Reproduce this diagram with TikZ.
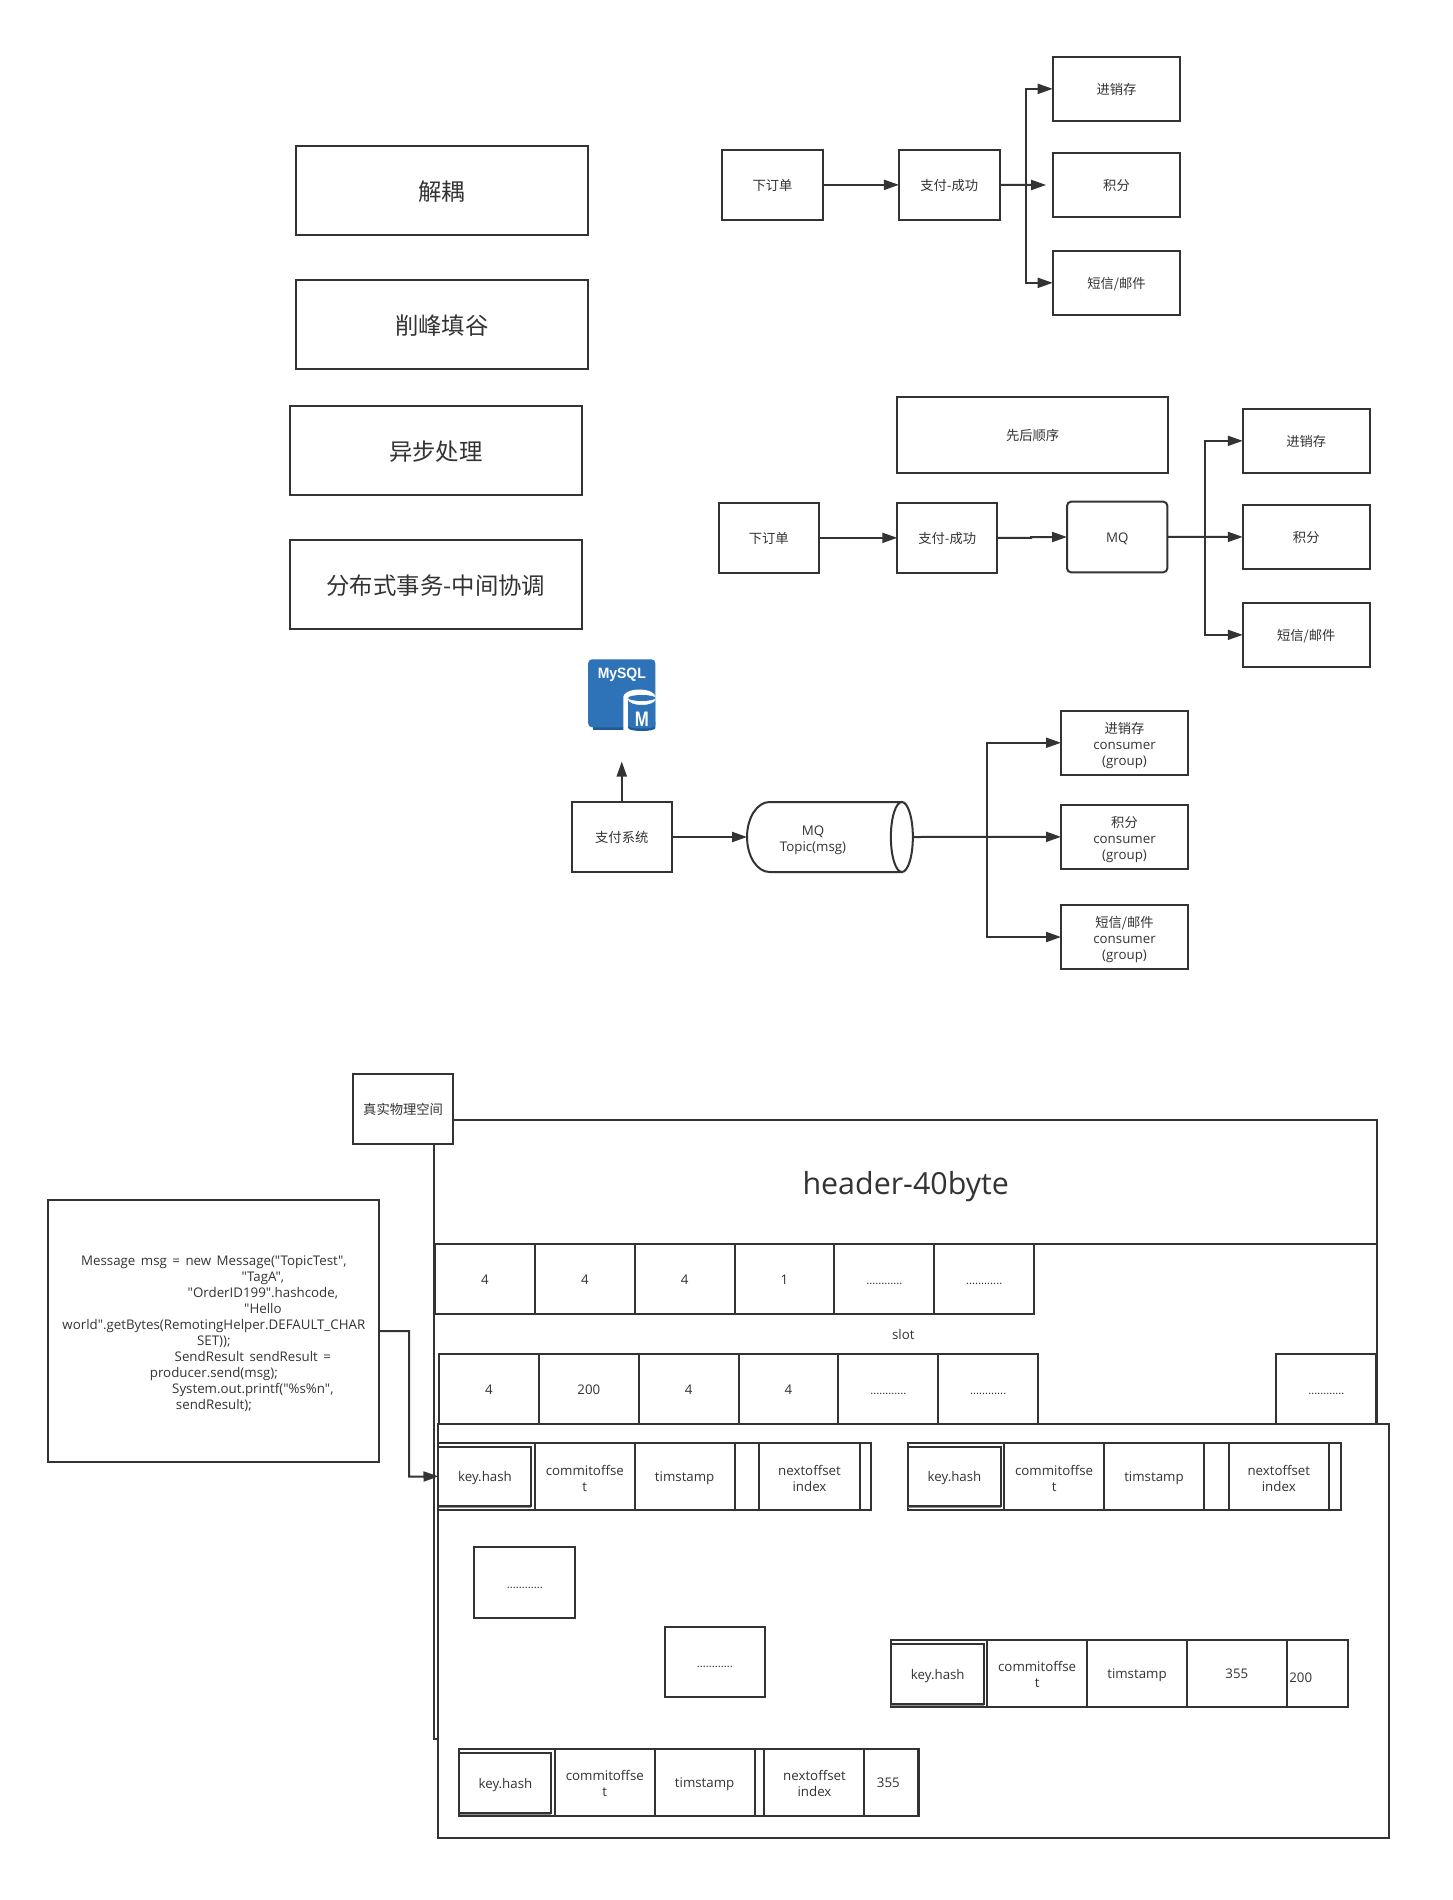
\documentclass[tikz,border=0pt]{standalone}
\usepackage{fontspec}
\setmainfont{Open Sans}[Ligatures=TeXOff]
\newfontfamily\cjk{Noto Sans CJK SC}
\newfontfamily\arialish{Liberation Sans}
\usetikzlibrary{arrows.meta}
\definecolor{ink}{HTML}{333333}
\definecolor{mysqlblue}{HTML}{2E73B8}
\definecolor{mysqldark}{HTML}{1F5A96}
\newcommand{\wordgap}{\spaceskip=5.5pt\relax}
\newcommand{\ml}{\rule{0pt}{17.4pt}}
\tikzset{
  struts/.style={execute at begin node={\rule{0pt}{1.13em}},execute at end node={\rule[-.3em]{0pt}{.3em}}},
  base/.style={line width=2pt,draw=ink,text=ink,inner sep=0pt,outer sep=0pt,align=center,font=\fontsize{13.3}{16}\selectfont,struts},
  box/.style={base,fill=white},
  big/.style={font=\fontsize{23.4}{28}\selectfont},
  conn/.style={line width=2pt,draw=ink,-{Triangle[length=15pt,width=10pt]}},
  plain/.style={line width=2pt,draw=ink},
  label/.style={text=ink,inner sep=0pt,align=center,font=\fontsize{13.3}{16}\selectfont,struts},
}
\newcommand{\nbox}[7][]{%
  \pgfmathsetmacro\cxx{(#3+#5)/2}\pgfmathsetmacro\cyy{(#4+#6)/2}%
  \pgfmathsetmacro\ww{#5-#3}\pgfmathsetmacro\hh{#6-#4}%
  \node[box,minimum width=\ww pt,minimum height=\hh pt,#1] (#2) at (\cxx,\cyy) {#7};}
\newcommand{\keybox}[5]{%
  \nbox{#1}{#2}{#3}{#4}{#5}{key.hash}
  \draw[line width=1.2pt,draw=black!45] (#2,#5+1.6) -- (#4,#5+1.6);}
\newcommand{\dotsline}{{\fontsize{11.3}{14}\selectfont ............}}
\begin{document}
\begin{tikzpicture}[x=0.9985pt,y=-1pt]
\useasboundingbox (0,0) rectangle (1454.18,1900);
\fill[white] (0,0) rectangle (1454.18,1900);
\begin{scope}[xshift=0.7pt]

% left big boxes
\nbox[big]{a1}{295.7}{145.7}{588}{235}{\cjk 解耦}
\nbox[big]{a2}{295.7}{279.7}{588}{369}{\cjk 削峰填谷}
\nbox[big]{a3}{289.7}{405.7}{582}{495}{\cjk 异步处理}
\nbox[big]{a4}{289.7}{539.7}{582}{629}{\cjk 分布式事务-中间协调}

% top flow
\nbox{t1}{722.7}{149.7}{823.3}{220}{\cjk 下订单}
\nbox{t2}{899.7}{149.7}{1000.3}{220}{\cjk 支付-成功}
\nbox{t3}{1053.7}{56.7}{1181.3}{121}{\cjk 进销存}
\nbox{t4}{1053.7}{153}{1181.3}{217}{\cjk 积分}
\nbox{t5}{1053.7}{250.7}{1181.3}{315}{\cjk 短信/邮件}
\coordinate (tb) at (1027,185);
\coordinate (te) at (1047,185);
\draw[conn] (t1) -- (t2);
\draw[conn] (t2) -- (te);
\draw[conn] (tb) |- (t3);
\draw[conn] (tb) |- (t5);

% second flow
\nbox{o0}{898}{396.7}{1169}{473}{\cjk 先后顺序}
\nbox{m1}{719}{502.7}{819.3}{573}{\cjk 下订单}
\nbox{m2}{898}{502.7}{998}{573}{\cjk 支付-成功}
\nbox[rounded corners=4pt]{m3}{1068}{501.7}{1168.3}{572.3}{MQ}
\nbox{m4}{1244}{408.7}{1371}{473}{\cjk 进销存}
\nbox{m5}{1244}{504.7}{1371}{569}{\cjk 积分}
\nbox{m6}{1244}{602.7}{1371}{667}{\cjk 短信/邮件}
\coordinate (mb) at (1206,537);
\coordinate (mk1) at (1032,537.85);
\coordinate (mk2) at (1032,537);
\draw[conn] (m1) -- (m2);
\draw[conn] (m2.east) -- (mk1) -- (mk2) -- (m3.west);
\draw[conn] (m3) -- (m5);
\draw[conn] (mb) |- (m4);
\draw[conn] (mb) |- (m6);

% MySQL icon
\fill[mysqldark] (593,722) rectangle (628,730.3);
\fill[mysqlblue,rounded corners=4pt] (588.3,659.3) rectangle (655.7,727.3);
\node[text=white,inner sep=0pt,anchor=base,xscale=.93,font=\arialish\fontsize{15}{18}\bfseries\selectfont] (mysql) at (622,678.3) {MySQL};
\fill[white] (623.5,697) arc[start angle=180,end angle=0,x radius=16.1pt,y radius=7.5pt] -- (655.7,732.7) -- (623.5,732.7) -- cycle;
\fill[mysqldark] (628.3,722) -- (628.3,728) arc[start angle=180,end angle=360,x radius=13.7pt,y radius=3pt] -- (655.7,722) -- cycle;
\fill[mysqlblue] (628.3,699.5) arc[start angle=180,end angle=360,x radius=13.7pt,y radius=5.5pt] -- (655.7,726) arc[start angle=360,end angle=180,x radius=13.7pt,y radius=2.5pt] -- cycle;
\fill[mysqlblue] (642,698) ellipse[x radius=13.7pt,y radius=3pt];
\node[text=white,inner sep=0pt,anchor=base,xscale=.8,font=\arialish\fontsize{21}{24}\bfseries\selectfont] (mysqlm) at (642,726) {M};
\coordinate (up) at (622,761.5);

% third flow
\nbox{p1}{572}{802}{672}{872}{\cjk 支付系统}
\draw[plain,fill=white] (770,802) -- (902.5,802) -- (902.5,872) -- (770,872) arc[start angle=270,end angle=90,x radius=22.5pt,y radius=35pt] -- cycle;
\draw[plain,fill=white] (902.5,837) ellipse[x radius=11pt,y radius=35pt];
\node[label] (p2) at (813.5,837) {\ml MQ\\Topic(msg)};
\coordinate (p2w) at (747.5,837);
\coordinate (p2e) at (913.5,837);
\nbox{p3}{1062}{710.5}{1189}{775}{\ml{\cjk 进销存}\\consumer\\(group)}
\nbox{p4}{1062}{804.5}{1189}{869}{\ml{\cjk 积分}\\consumer\\(group)}
\nbox{p5}{1062}{905}{1189}{969}{\ml{\cjk 短信/邮件}\\consumer\\(group)}
\coordinate (pb) at (987.5,837);
\draw[conn] (p1) -- (up);
\draw[conn] (p1) -- (p2w);
\draw[conn] (p2e) -- (p4);
\draw[conn] (pb) |- (p3);
\draw[conn] (pb) |- (p5);

% physical space frame
\nbox{outer}{435}{1120}{1377.7}{1739}{}
\nbox[font=\fontsize{30.4}{36}\selectfont]{head}{435}{1120}{1377.7}{1244}{header-40byte}
\nbox{real}{353}{1073.5}{453}{1144}{\cjk 真实物理空间}

% row 1
\nbox{r1}{435}{1244}{535}{1313.7}{4}
\nbox{r2}{535}{1244}{635}{1313.7}{4}
\nbox{r3}{635}{1244}{735}{1313.7}{4}
\nbox{r4}{735}{1244}{835}{1313.7}{1}
\nbox{r5}{835}{1244}{935}{1313.7}{\dotsline}
\nbox{r6}{935}{1244}{1035}{1313.7}{\dotsline}
\node[label] (slot) at (904,1334) {slot};

% row 2
\nbox{s1}{439}{1353.7}{539}{1423.7}{4}
\nbox{s2}{539}{1353.7}{639}{1423.7}{200}
\nbox{s3}{639}{1353.7}{739}{1423.7}{4}
\nbox{s4}{739}{1353.7}{839}{1423.7}{4}
\nbox{s5}{839}{1353.7}{939}{1423.7}{\dotsline}
\nbox{s6}{939}{1353.7}{1039}{1423.7}{\dotsline}
\nbox{s7}{1277.7}{1353.7}{1377.7}{1423.7}{\dotsline}

% big slot area
\nbox{area}{438.5}{1423.7}{1389.7}{1837.5}{}

% record A
\nbox{ao}{438.5}{1443}{871.5}{1509.7}{}
\keybox{ak}{438.5}{1446.7}{531.5}{1506}
\nbox{a1c}{535}{1443}{635}{1509.7}{\ml commitoffse\\t}
\nbox{a2c}{635}{1443}{735}{1509.7}{timstamp}
\nbox{a3c}{735}{1443}{760}{1509.7}{}
\nbox{a4c}{760}{1443}{860}{1509.7}{\ml nextoffset\\index}

% record B
\nbox{bo}{908.5}{1443}{1342}{1509.7}{}
\keybox{bk}{908.5}{1446.7}{1002}{1506}
\nbox{b1c}{1005}{1443}{1105}{1509.7}{\ml commitoffse\\t}
\nbox{b2c}{1105}{1443}{1205}{1509.7}{timstamp}
\nbox{b3c}{1205}{1443}{1230}{1509.7}{}
\nbox{b4c}{1230}{1443}{1330}{1509.7}{\ml nextoffset\\index}

% loose cells
\nbox{d1}{474.5}{1547}{575.5}{1618}{\dotsline}
\nbox{d2}{665}{1626.5}{765.5}{1697}{\dotsline}

% record C
\nbox{co}{892}{1639.5}{1349}{1707}{}
\keybox{ck}{892}{1643.5}{985}{1703.5}
\nbox{c1c}{988}{1639.5}{1088}{1707}{\ml commitoffse\\t}
\nbox{c2c}{1088}{1639.5}{1188}{1707}{timstamp}
\nbox{c3c}{1188}{1639.5}{1288}{1707}{355}
\nbox{c4c}{1288}{1639.5}{1349}{1707}{}
\node[label] (c200) at (1302,1677) {200};

% record D
\nbox{do}{459.5}{1748.5}{919}{1816}{}
\keybox{dk}{459.5}{1752.5}{551.5}{1812.5}
\nbox{d1c}{555}{1748.5}{655}{1816}{\ml commitoffse\\t}
\nbox{d2c}{655}{1748.5}{755}{1816}{timstamp}
\nbox{d3c}{755}{1748.5}{765}{1816}{}
\nbox{d4c}{765}{1748.5}{865}{1816}{\ml nextoffset\\index}
\nbox{d5c}{865}{1748.5}{919}{1816}{\hspace*{-6pt}355}

% message box
\nbox[font={\fontsize{13.3}{16}\selectfont\wordgap}]{msg}{48}{1200}{379}{1462}{\ml Message msg = new Message("TopicTest",\\
\hspace*{98pt}"TagA",\\
\hspace*{98pt}"OrderID199".hashcode,\\
\hspace*{98pt}"Hello\\
world".getBytes(RemotingHelper.DEFAULT\_CHAR\\
SET));\\
\hspace*{78pt}SendResult sendResult =\\
producer.send(msg);\\
\hspace*{78pt}System.out.printf("\%s\%n",\\
sendResult);}
\coordinate (mk) at (409,1476.7);
\draw[conn] (msg.east) -| (mk) -- (ak.west);
\end{scope}
\end{tikzpicture}
\end{document}
